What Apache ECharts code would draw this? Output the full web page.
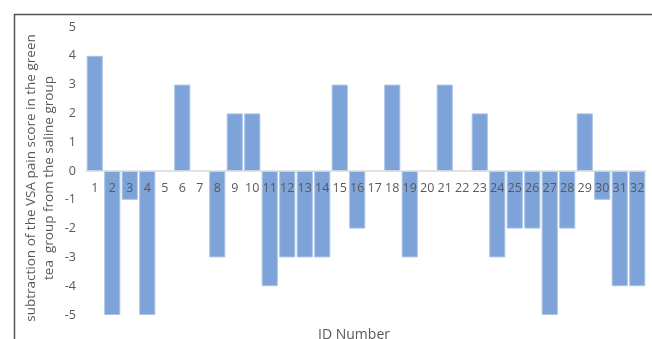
<!DOCTYPE html>
<html><head><meta charset="utf-8">
<script src="https://cdn.jsdelivr.net/npm/echarts@6/dist/echarts.min.js"></script>
<style>html,body{margin:0;padding:0;background:#fff}#c{width:652px;height:339px}</style>
</head><body><div id="c"></div>
<script>
const categories = ['1','2','3','4','5','6','7','8','9','10','11','12','13','14','15','16','17','18','19','20','21','22','23','24','25','26','27','28','29','30','31','32'];
const values = [4,-5,-1,-5,0,3,0,-3,2,2,-4,-3,-3,-3,3,-2,0,3,-3,0,3,0,2,-3,-2,-2,-5,-2,2,-1,-4,-4];
const yTitle = 'subtraction of the VSA pain score in the green\ntea  group from the saline group';
const xTitle = 'ID Number';

const chart = echarts.init(document.getElementById('c'));
const font = 'Open Sans';
chart.setOption({
  animation: false,
  graphic: [{type:'rect', left:12, top:12, shape:{width:700, height:400}, style:{fill:'none', stroke:'#555', lineWidth:1.5}}],
  grid: {left: 86, right: 6, top: 27, bottom: 24, outerBoundsMode: 'none', containLabel: false},
  xAxis: {
    type: 'category', data: categories, z: 10,
    axisLine: {onZero: true, lineStyle: {color: '#d9d9d9', width: 1.5}},
    axisTick: {show: false},
    axisLabel: {color: '#595959', fontFamily: font, fontSize: 12.5, margin: 11, interval: 0},
    name: xTitle, nameLocation: 'middle', nameGap: 157, nameMoveOverlap: false,
    nameTextStyle: {color: '#595959', fontFamily: font, fontSize: 14, padding: [0, 24, 0, 0]}
  },
  yAxis: {
    type: 'value', min: -5, max: 5, interval: 1,
    axisLine: {show: false}, axisTick: {show: false}, splitLine: {show: false},
    axisLabel: {color: '#595959', fontFamily: font, fontSize: 12.5, margin: 10},
    name: yTitle, nameLocation: 'middle', nameGap: 28, nameMoveOverlap: false,
    nameTextStyle: {color: '#595959', fontFamily: font, fontSize: 13.5, lineHeight: 18, padding: [0, 14, 0, 0]}
  },
  series: [{
    type: 'bar', barCategoryGap: '8%', z: 2,
    data: values.map(v => v === 0 ? {value: v, itemStyle: {borderWidth: 0}} : v),
    itemStyle: {color: '#7da3d8', borderColor: '#a9c3e8', borderWidth: 1}
  }]
});
// Place the category axis on the zero line of the value axis
const zeroY = chart.convertToPixel({yAxisIndex: 0}, 0);
const bottomY = chart.convertToPixel({yAxisIndex: 0}, -5);
chart.setOption({xAxis: {axisLine: {onZero: false}, offset: zeroY - bottomY}});
</script></body></html>
